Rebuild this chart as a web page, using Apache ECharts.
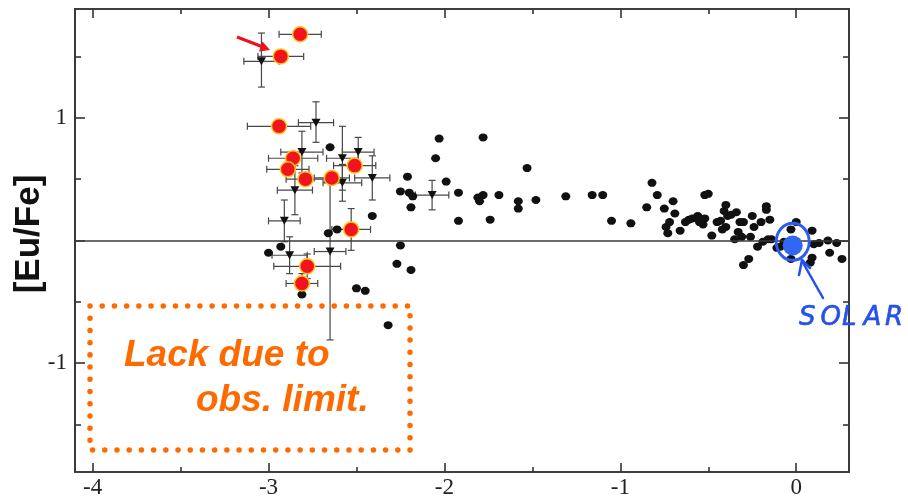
<!DOCTYPE html>
<html><head><meta charset="utf-8">
<script src="https://cdn.jsdelivr.net/npm/echarts@6/dist/echarts.min.js"></script>
<style>html,body{margin:0;padding:0;background:#fff}#c{width:908px;height:499px}</style>
</head><body><div id="c"></div>
<script>
// ---- tick values / labels ----
const xTicks = [-4, -3, -2, -1, 0];
const xMinorTicks = [-3.5, -2.5, -1.5, -0.5];
const yTicks = [-1, 0, 1];
const yTickLabels = [-1, 1];
const yMinorTicks = [-1.5, -0.5, 0.5, 1.5];

// ---- highlighted stars (red): [FeH, EuFe, xErr, yErr] ----
const redStars = [
  [-2.82, 1.68, 0.12, 0.03],
  [-2.93, 1.50, 0.13, 0.03],
  [-2.94, 0.93, 0.18, 0.03],
  [-2.86, 0.67, 0.14, 0.05],
  [-2.89, 0.58, 0.12, 0.05],
  [-2.79, 0.50, 0.11, 0.05],
  [-2.64, 0.51, 0.10, 0.05],
  [-2.51, 0.61, 0.12, 0.05],
  [-2.53, 0.09, 0.11, 0.17],
  [-2.78, -0.21, 0.19, 0.10],
  [-2.81, -0.35, 0.09, 0.08]
];

// ---- triangles with error bars: [FeH, EuFe, xErr, yErrLow, yErrHigh] ----
const triangles = [
  [-3.04, 1.46, 0.10, 0.21, 0.23],
  [-2.73, 0.96, 0.10, 0.16, 0.17],
  [-2.81, 0.72, 0.12, 0.17, 0.17],
  [-2.58, 0.67, 0.09, 0.26, 0.26],
  [-2.49, 0.72, 0.09, 0.12, 0.12],
  [-2.58, 0.47, 0.11, 0.15, 0.15],
  [-2.41, 0.51, 0.10, 0.18, 0.18],
  [-2.85, 0.41, 0.10, 0.20, 0.20],
  [-2.91, 0.16, 0.09, 0.17, 0.17],
  [-2.88, -0.12, 0.10, 0.15, 0.15],
  [-2.65, -0.09, 0.09, 0.72, 0.60],
  [-2.07, 0.37, 0.095, 0.12, 0.12]
];

// ---- black dots: [FeH, EuFe] ----
const dotsMetalPoor = [
  [-2.65, 0.76], [-2.66, 0.06], [-2.61, 0.09], [-2.41, 0.20], [-2.93, -0.05],
  [-3.00, -0.10], [-2.81, -0.44], [-2.25, -0.04], [-2.27, -0.19], [-2.19, -0.24],
  [-2.50, -0.39], [-2.45, -0.41], [-2.32, -0.69], [-2.21, 0.52], [-2.25, 0.40],
  [-2.20, 0.39], [-2.18, 0.36], [-2.19, 0.27], [-2.03, 0.83], [-1.78, 0.84],
  [-2.05, 0.67], [-1.53, 0.59], [-1.99, 0.48], [-1.92, 0.39], [-1.81, 0.35],
  [-1.80, 0.32], [-1.78, 0.37], [-1.69, 0.37], [-1.58, 0.32], [-1.58, 0.26],
  [-1.48, 0.33], [-1.31, 0.36], [-1.16, 0.37], [-1.10, 0.37], [-1.92, 0.16],
  [-1.74, 0.17], [-1.05, 0.16], [-0.94, 0.14], [-0.82, 0.47], [-0.79, 0.37],
  [-0.85, 0.27]
];
const dotsMetalRich = [
  [-0.75, 0.26], [-0.70, 0.32], [-0.69, 0.22], [-0.72, 0.15], [-0.74, 0.11],
  [-0.73, 0.06], [-0.66, 0.08], [-0.63, 0.15], [-0.61, 0.17], [-0.59, 0.18],
  [-0.56, 0.20], [-0.55, 0.15], [-0.52, 0.18], [-0.53, 0.13], [-0.52, 0.37],
  [-0.50, 0.38], [-0.48, 0.04], [-0.45, 0.15], [-0.43, 0.16], [-0.40, 0.29],
  [-0.41, 0.24], [-0.39, 0.20], [-0.37, 0.21], [-0.42, 0.09], [-0.40, 0.11],
  [-0.34, 0.23], [-0.32, 0.15], [-0.30, 0.15], [-0.25, 0.20], [-0.24, 0.11],
  [-0.35, 0.01], [-0.31, 0.03], [-0.33, 0.07], [-0.20, 0.15], [-0.17, 0.28],
  [-0.17, 0.25], [-0.15, 0.17], [-0.26, 0.03], [-0.22, -0.05], [-0.19, -0.01],
  [-0.16, 0.01], [-0.14, 0.01], [-0.11, -0.06], [-0.30, -0.20], [-0.27, -0.15],
  [0.00, 0.15], [-0.03, 0.09], [0.09, 0.08], [-0.03, -0.15], [0.09, -0.14],
  [0.08, -0.18], [0.19, -0.10], [0.23, -0.02], [0.26, -0.15], [0.18, 0.00],
  [0.13, -0.02], [0.10, -0.03], [-0.09, -0.05], [-0.07, -0.01]
];

// ---- solar reference ----
const solarPoint = [[-0.02, -0.04]];
const solarRing = [[-0.02, -0.01]];

const chart = echarts.init(document.getElementById('c'), null, {renderer: 'canvas'});

const axisCol = '#333';
const tickFont = {fontFamily: '"Liberation Serif","Times New Roman",serif', fontSize: 23, color: '#222'};

function makeX(pos, values, len, labels) {
  return {
    type: 'value', min: -4.1, max: 0.3, position: pos,
    axisLine: {show: true, onZero: false, lineStyle: {color: axisCol, width: 1.6}},
    axisTick: {show: true, inside: true, length: len, customValues: values, lineStyle: {color: axisCol, width: 1.6}},
    axisLabel: labels ? Object.assign({show: true, customValues: labels, margin: 4}, tickFont) : {show: false},
    splitLine: {show: false}, minorTick: {show: false}
  };
}
function makeY(pos, values, len, labels) {
  return {
    type: 'value', min: -1.886, max: 1.886, position: pos,
    axisLine: {show: true, onZero: false, lineStyle: {color: axisCol, width: 1.6}},
    axisTick: {show: true, inside: true, length: len, customValues: values, lineStyle: {color: axisCol, width: 1.6}},
    axisLabel: labels ? Object.assign({show: true, customValues: labels, margin: 8}, tickFont) : {show: false},
    splitLine: {show: false}, minorTick: {show: false}
  };
}

function errRender(params, api) {
  const x = api.value(0), y = api.value(1), xe = api.value(2), ylo = api.value(3), yhi = api.value(4);
  const l = api.coord([x - xe, y]), r = api.coord([x + xe, y]);
  const t = api.coord([x, y + yhi]), b = api.coord([x, y - ylo]);
  const cap = 3.5;
  const st = {stroke: '#484848', lineWidth: 1.2};
  const segs = [
    [l, r], [t, b],
    [[l[0], l[1] - cap], [l[0], l[1] + cap]],
    [[r[0], r[1] - cap], [r[0], r[1] + cap]]
  ];
  if (yhi > 0.06) segs.push([[t[0] - cap, t[1]], [t[0] + cap, t[1]]]);
  if (ylo > 0.06) segs.push([[b[0] - cap, b[1]], [b[0] + cap, b[1]]]);
  return {
    type: 'group',
    children: segs.map(s => ({type: 'line', shape: {x1: s[0][0], y1: s[0][1], x2: s[1][0], y2: s[1][1]}, style: st}))
  };
}

const redErr = redStars.map(d => [d[0], d[1], d[2], d[3], d[3]]);

const orange = '#ff6a00';
const blue = '#2450ee';

const graphics = [
  {type: 'text', x: 29, y: 234, rotation: Math.PI / 2,
   style: {text: '[Eu/Fe]', font: 'bold 35px "Liberation Sans", Arial, sans-serif', fill: '#111', align: 'center', verticalAlign: 'middle'}},
  {type: 'rect', shape: {x: 90, y: 306, width: 320, height: 144}, z: 10,
   style: {fill: null, stroke: orange, lineWidth: 5.5, lineDash: [0.01, 12.2], lineCap: 'round'}},
  {type: 'text', x: 124, y: 356, z: 10,
   style: {text: 'Lack due to', font: 'italic bold 37px "Liberation Sans", Arial, sans-serif', fill: orange, align: 'left', verticalAlign: 'middle'}},
  {type: 'text', x: 196, y: 401, z: 10,
   style: {text: 'obs. limit.', font: 'italic bold 37px "Liberation Sans", Arial, sans-serif', fill: orange, align: 'left', verticalAlign: 'middle'}},
  // red arrow
  {type: 'polyline', z: 10, shape: {points: [[237, 37], [263, 47]]}, style: {stroke: '#e8141e', lineWidth: 3}},
  {type: 'polygon', z: 10, shape: {points: [[270, 50], [259, 51.5], [262.5, 41.5]]}, style: {fill: '#e8141e'}},
  // blue arrow
  {type: 'polyline', z: 10, shape: {points: [[823, 298], [802, 261]]}, style: {stroke: blue, lineWidth: 2.5, lineCap: 'round'}},
  {type: 'polyline', z: 10, shape: {points: [[799, 275], [802, 260], [810, 268]]}, style: {stroke: blue, lineWidth: 2.5, lineCap: 'round', lineJoin: 'round', fill: null}}
];
'SOLAR'.split('').forEach((ch, i) => {
  graphics.push({type: 'text', x: 799 + i * 21.5, y: 318, z: 10,
    style: {text: ch, font: 'italic 26px "DejaVu Sans", sans-serif', fill: blue, stroke: blue, lineWidth: 0.6, align: 'left', verticalAlign: 'middle'}});
});

chart.setOption({
  animation: false,
  backgroundColor: '#fff',
  grid: {left: 75, right: 59, top: 9, bottom: 26, containLabel: false},
  xAxis: [
    makeX('bottom', xTicks, 9, xTicks),
    makeX('bottom', xMinorTicks, 5, null),
    makeX('top', xTicks, 9, null),
    makeX('top', xMinorTicks, 5, null)
  ],
  yAxis: [
    makeY('left', yTicks, 10, yTickLabels),
    makeY('left', yMinorTicks, 6, null),
    makeY('right', yTicks, 10, null),
    makeY('right', yMinorTicks, 6, null)
  ],
  graphic: graphics,
  series: [
    {type: 'scatter', data: dotsMetalPoor.concat(dotsMetalRich), symbol: 'circle', symbolSize: [9, 8],
     itemStyle: {color: '#111', opacity: 1}, z: 3, silent: true,
     markLine: {silent: true, symbol: 'none', label: {show: false},
       lineStyle: {color: '#3a3a3a', width: 1.6, type: 'solid', opacity: 1}, data: [{yAxis: 0}]}},
    {type: 'custom', data: triangles, renderItem: errRender, z: 2, silent: true,
     encode: {x: 0, y: 1}},
    {type: 'custom', data: redErr, renderItem: errRender, z: 2, silent: true,
     encode: {x: 0, y: 1}},
    {type: 'scatter', data: triangles.map(d => [d[0], d[1]]), symbol: 'triangle', symbolRotate: 180,
     symbolSize: [9, 8], itemStyle: {color: '#111', opacity: 1}, z: 4, silent: true},
    {type: 'scatter', data: redStars.map(d => [d[0], d[1]]), symbol: 'circle', symbolSize: 15,
     itemStyle: {color: '#f0141e', borderColor: '#ffc21a', borderWidth: 1.5, opacity: 1}, z: 5, silent: true},
    {type: 'scatter', data: solarRing, symbol: 'circle', symbolSize: [33, 37],
     itemStyle: {color: 'rgba(255,255,255,0)', borderColor: '#2d5cf2', borderWidth: 3, opacity: 1}, z: 6, silent: true},
    {type: 'scatter', data: solarPoint, symbol: 'circle', symbolSize: 20,
     itemStyle: {color: '#3366f2', opacity: 1}, z: 6, silent: true}
  ]
});
</script></body></html>
